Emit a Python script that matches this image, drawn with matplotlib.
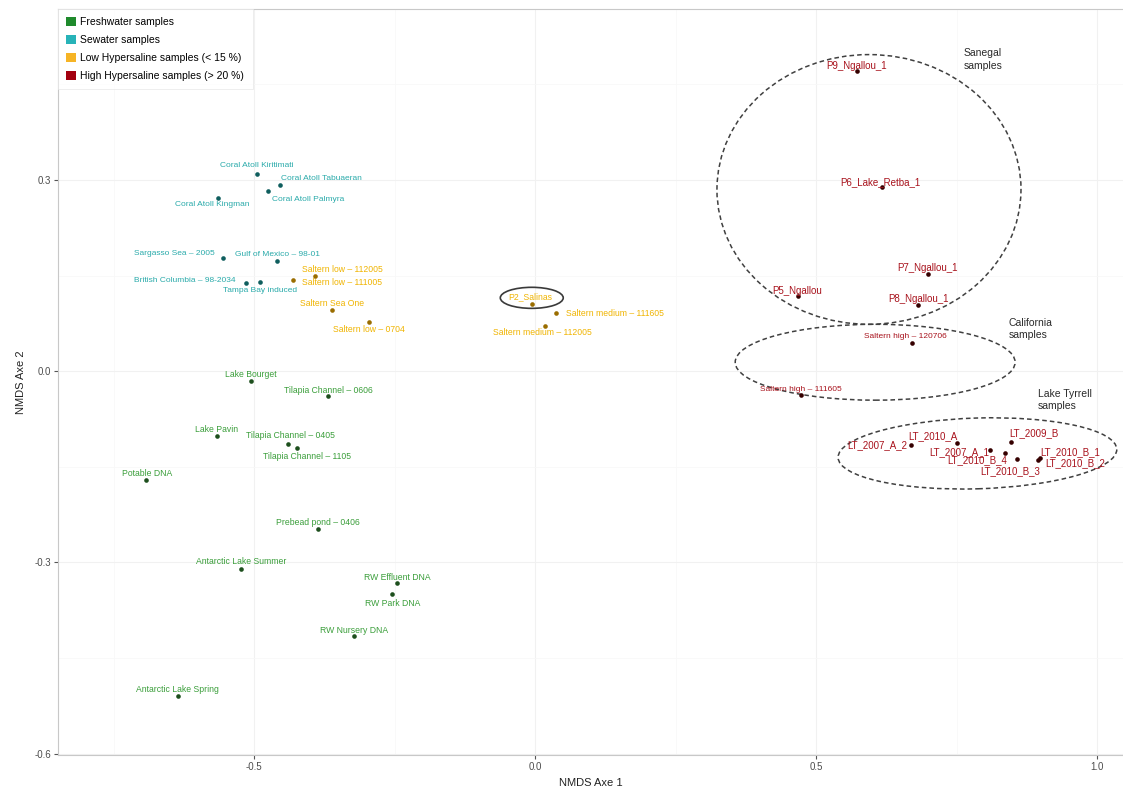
import matplotlib
matplotlib.use("Agg")
import matplotlib.pyplot as plt
from matplotlib.patches import Ellipse, Patch

plt.rcParams['font.family'] = ['Liberation Sans', 'DejaVu Sans']

# ---------------- data ----------------
fresh_names = ["Lake Bourget", "Tilapia Channel – 0606", "Lake Pavin", "Tilapia Channel – 0405",
               "Tilapia Channel – 1105", "Potable DNA", "Prebead pond – 0406", "Antarctic Lake Summer",
               "RW Effluent DNA", "RW Park DNA", "RW Nursery DNA", "Antarctic Lake Spring"]
fresh_x = [-0.506, -0.368, -0.566, -0.440, -0.423, -0.692, -0.386, -0.523, -0.246, -0.254, -0.322, -0.636]
fresh_y = [-0.016, -0.039, -0.101, -0.114, -0.121, -0.170, -0.248, -0.310, -0.333, -0.350, -0.416, -0.509]

sea_names = ["Coral Atoll Kiritimati", "Coral Atoll Tabuaeran", "Coral Atoll Palmyra", "Coral Atoll Kingman",
             "Sargasso Sea – 2005", "Gulf of Mexico – 98-01", "British Columbia – 98-2034", "Tampa Bay induced"]
sea_x = [-0.495, -0.454, -0.475, -0.564, -0.555, -0.459, -0.514, -0.489]
sea_y = [0.310, 0.292, 0.282, 0.272, 0.178, 0.173, 0.138, 0.140]

low_names = ["Saltern low – 112005", "Saltern low – 111005", "Saltern Sea One", "Saltern low – 0704",
             "P2_Salinas", "Saltern medium – 111605", "Saltern medium – 112005"]
low_x = [-0.391, -0.431, -0.361, -0.296, -0.006, 0.037, 0.018]
low_y = [0.149, 0.143, 0.096, 0.077, 0.106, 0.092, 0.071]

high_names = ["P9_Ngallou_1", "P6_Lake_Retba_1", "P7_Ngallou_1", "P5_Ngallou", "P8_Ngallou_1",
              "Saltern high – 120706", "Saltern high – 111605",
              "LT_2007_A_2", "LT_2010_A", "LT_2007_A_1", "LT_2009_B", "LT_2010_B_4",
              "LT_2010_B_3", "LT_2010_B_1", "LT_2010_B_2"]
high_x = [0.572, 0.617, 0.699, 0.467, 0.682, 0.670, 0.473,
          0.668, 0.750, 0.810, 0.846, 0.836, 0.857, 0.899, 0.895]
high_y = [0.471, 0.289, 0.152, 0.118, 0.103, 0.044, -0.037,
          -0.116, -0.113, -0.123, -0.111, -0.129, -0.137, -0.136, -0.140]

legend_labels = ["Freshwater samples", "Sewater samples",
                 "Low Hypersaline samples (< 15 %)", "High Hypersaline samples (> 20 %)"]

x_ticks = [-0.5, 0.0, 0.5, 1.0]
y_ticks = [-0.6, -0.3, 0.0, 0.3]

# cluster outlines: (cx, cy, width, height, angle)
cluster_ellipses = [(0.594, 0.285, 0.541, 0.423, 0),
                    (0.605, 0.014, 0.498, 0.119, 0),
                    (0.787, -0.129, 0.496, 0.111, 1.5)]
salinas_ellipse = (-0.006, 0.115, 0.112, 0.033)
cluster_texts = [("Sanegal\nsamples", 0.762, 0.489),
                 ("California\nsamples", 0.842, 0.066),
                 ("Lake Tyrrell\nsamples", 0.895, -0.045)]

# ---------------- styling ----------------
# label offsets in pixels (dx, dy) relative to each point
offsets = {
    "Lake Bourget": (0, 7), "Tilapia Channel – 0606": (0, 6), "Lake Pavin": (0, 6),
    "Tilapia Channel – 0405": (3, 8), "Tilapia Channel – 1105": (10, -8), "Potable DNA": (1, 6),
    "Prebead pond – 0406": (0, 7), "Antarctic Lake Summer": (0, 7), "RW Effluent DNA": (0, 6),
    "RW Park DNA": (0, -9), "RW Nursery DNA": (0, 6), "Antarctic Lake Spring": (0, 6),
    "Coral Atoll Kiritimati": (0, 8), "Coral Atoll Tabuaeran": (41, 6), "Coral Atoll Palmyra": (40, -8),
    "Coral Atoll Kingman": (-6, -7), "Sargasso Sea – 2005": (-49, 4), "Gulf of Mexico – 98-01": (0, 6),
    "British Columbia – 98-2034": (-62, 3), "Tampa Bay induced": (0, -9),
    "Saltern low – 112005": (27, 7), "Saltern low – 111005": (49, -3), "Saltern Sea One": (0, 6),
    "Saltern low – 0704": (0, -7), "P2_Salinas": (-2, 7), "Saltern medium – 111605": (59, -1),
    "Saltern medium – 112005": (-3, -7),
    "P9_Ngallou_1": (0, 5), "P6_Lake_Retba_1": (-2, 5), "P7_Ngallou_1": (0, 6), "P5_Ngallou": (0, 5),
    "P8_Ngallou_1": (0, 6), "Saltern high – 120706": (-6, 7), "Saltern high – 111605": (0, 5),
    "LT_2007_A_2": (-33, 0), "LT_2010_A": (-24, 7), "LT_2007_A_1": (-31, -3), "LT_2009_B": (23, 9),
    "LT_2010_B_4": (-28, -7), "LT_2010_B_3": (-7, -13), "LT_2010_B_1": (30, 6), "LT_2010_B_2": (37, -3),
}
small_labels = {"Saltern high – 120706": 6.0, "Saltern high – 111605": 6.0}

groups = [
    (fresh_names, fresh_x, fresh_y, "#3a9e3a", "#1d4f1d", "#1f8a2c", 6.2),
    (sea_names, sea_x, sea_y, "#29aaaa", "#0f5e5e", "#27b3b8", 6.0),
    (low_names, low_x, low_y, "#f0b400", "#9a6d00", "#f6b425", 6.2),
    (high_names, high_x, high_y, "#a8121c", "#350000", "#a3000f", 7.0),
]

fig = plt.figure(figsize=(11.23, 7.91), dpi=100)
ax = fig.add_axes([58 / 1123, 36 / 791, (1123 - 58) / 1123, (755 - 9) / 791])

for names, xs, ys, tcol, pcol, lcol, fs in groups:
    ax.scatter(xs, ys, s=11, color=pcol, zorder=3, linewidths=0)
    for n, x, y in zip(names, xs, ys):
        dx, dy = offsets.get(n, (0, 6))
        ax.annotate(n, (x, y), xytext=(dx, dy), textcoords='offset pixels',
                    ha='center', va='center', fontsize=small_labels.get(n, fs), color=tcol, zorder=4)

for cx, cy, w, h, ang in cluster_ellipses:
    ax.add_patch(Ellipse((cx, cy), w, h, angle=ang, fill=False, edgecolor="#404040",
                         linestyle=(0, (3, 2)), linewidth=1.1, zorder=2))
ax.add_patch(Ellipse(salinas_ellipse[:2], salinas_ellipse[2], salinas_ellipse[3], fill=False,
                     edgecolor="#3a3a3a", linewidth=1.2, zorder=2))
for t, x, y in cluster_texts:
    ax.text(x, y, t, ha='left', va='center', fontsize=7.5, color="#2a2a2a", linespacing=1.3)

ax.set_xlim(-0.849, 1.046)
ax.set_ylim(-0.602, 0.568)
ax.set_xticks(x_ticks)
ax.set_xticklabels([f"{v:.1f}" for v in x_ticks])
ax.set_yticks(y_ticks)
ax.set_yticklabels([f"{v:.1f}" for v in y_ticks])
ax.set_xticks([-0.75, -0.25, 0.25, 0.75], minor=True)
ax.set_yticks([-0.45, -0.15, 0.15, 0.45], minor=True)
ax.grid(True, which='major', color="#f1f1f1", linewidth=0.8)
ax.grid(True, which='minor', color="#f8f8f8", linewidth=0.6)
ax.set_axisbelow(True)
ax.tick_params(which='major', length=3, width=0.8, color="#555555", labelsize=7, labelcolor="#4d4d4d", pad=2)
ax.tick_params(which='minor', length=0)
for side in ['left', 'bottom', 'top']:
    ax.spines[side].set_color("#c8c8c8")
    ax.spines[side].set_linewidth(0.8)
ax.spines['right'].set_visible(False)

ax.set_xlabel("NMDS Axe 1", fontsize=8, color="#222222", labelpad=4)
ax.set_ylabel("NMDS Axe 2", fontsize=8, color="#222222", labelpad=6)

handles = [Patch(facecolor=g[5], edgecolor='none') for g in groups]
leg = ax.legend(handles, legend_labels, loc='upper left', bbox_to_anchor=(0, 1), borderaxespad=0,
                fontsize=7.5, frameon=True, fancybox=False, handlelength=0.95, handleheight=0.95,
                handletextpad=0.4, labelspacing=0.75, borderpad=0.8)
leg.get_frame().set_edgecolor("#e6e6e6")
leg.get_frame().set_linewidth(0.6)

fig.savefig("out.png", dpi=100)
